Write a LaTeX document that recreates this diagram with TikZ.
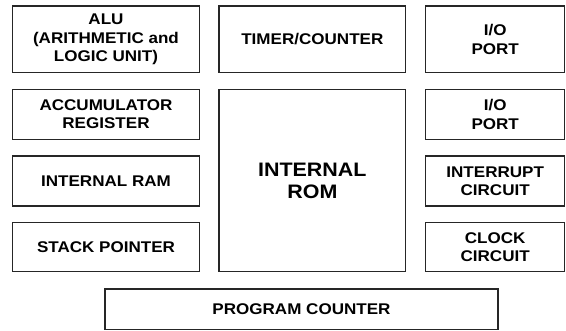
\documentclass[tikz,border=0pt]{standalone}
\usepackage{fontspec}
\setmainfont{Liberation Sans}[FakeStretch=1.1]
\begin{document}
\begin{tikzpicture}[x=1pt,y=-1pt,
  box/.style={draw=black!85, line width=1.1pt, rectangle, inner sep=0pt, outer sep=0pt,
    anchor=north west, align=center,
    font=\fontsize{15.5}{18.5}\selectfont\bfseries},
  bigbox/.style={box, font=\fontsize{19.5}{22}\selectfont\bfseries}]
\fill[white] (0,0) rectangle (566,331);
\useasboundingbox (0,0) rectangle (566,331);
% row 1
\node[box, minimum width=186.6pt, minimum height=66.7pt] (alu) at (12.7,6) {ALU\\(ARITHMETIC and\\LOGIC UNIT)};
\node[box, minimum width=186.7pt, minimum height=66.7pt] (timer) at (219,6) {TIMER/COUNTER};
\node[box, minimum width=139pt, minimum height=66.7pt] (io1) at (425.7,6) {I/O\\PORT};
% row 2
\node[box, minimum width=186.6pt, minimum height=50pt] (acc) at (12.7,89.3) {ACCUMULATOR\\REGISTER};
\node[bigbox, minimum width=186.7pt, minimum height=182.4pt] (rom) at (219,89.3) {INTERNAL\\ROM};
\node[box, minimum width=139pt, minimum height=50pt] (io2) at (425.7,89.3) {I/O\\PORT};
% row 3
\node[box, minimum width=186.6pt, minimum height=50pt] (ram) at (12.7,156) {INTERNAL RAM};
\node[box, minimum width=139pt, minimum height=50pt] (intr) at (425.7,156) {INTERRUPT\\CIRCUIT};
% row 4
\node[box, minimum width=186.6pt, minimum height=49.4pt] (sp) at (12.7,222.3) {STACK POINTER};
\node[box, minimum width=139pt, minimum height=49.4pt] (clk) at (425.7,222.3) {CLOCK\\CIRCUIT};
% program counter
\node[box, minimum width=393pt, minimum height=40.5pt] (pc) at (105,289) {PROGRAM COUNTER};
\end{tikzpicture}
\end{document}
